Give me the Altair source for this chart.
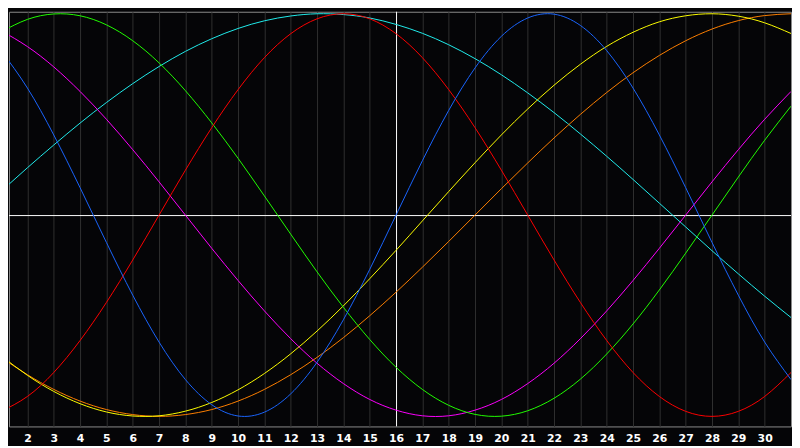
import altair as alt
import pandas as pd

days = list(range(1, 32))
tick_days = list(range(2, 31))
today = 16

# values for each day (range -1..1)
blue = [0.817, 0.631, 0.398, 0.136, -0.136, -0.398, -0.631, -0.817, -0.942, -0.998,
        -0.979, -0.888, -0.731, -0.520, -0.270, 0.0, 0.270, 0.520, 0.731, 0.888,
        0.979, 0.998, 0.942, 0.817, 0.631, 0.398, 0.136, -0.136, -0.398, -0.631, -0.817]
red = [-0.975, -0.901, -0.782, -0.623, -0.434, -0.223, 0.0, 0.223, 0.434, 0.623,
       0.782, 0.901, 0.975, 1.0, 0.975, 0.901, 0.782, 0.623, 0.434, 0.223,
       0.0, -0.223, -0.434, -0.623, -0.782, -0.901, -0.975, -1.0, -0.975, -0.901, -0.782]
green = [0.910, 0.972, 0.999, 0.990, 0.945, 0.866, 0.756, 0.618, 0.458, 0.282,
         0.095, -0.095, -0.282, -0.458, -0.618, -0.756, -0.866, -0.945, -0.990, -0.999,
         -0.972, -0.910, -0.815, -0.690, -0.541, -0.372, -0.189, 0.0, 0.189, 0.372, 0.541]
magenta = [0.916, 0.837, 0.736, 0.614, 0.476, 0.325, 0.165, 0.0, -0.165, -0.325,
           -0.476, -0.614, -0.736, -0.837, -0.916, -0.969, -0.997, -0.997, -0.969, -0.916,
           -0.837, -0.736, -0.614, -0.476, -0.325, -0.165, 0.0, 0.165, 0.325, 0.476, 0.614]
yellow = [-0.699, -0.796, -0.876, -0.937, -0.978, -0.998, -0.997, -0.974, -0.931, -0.868,
          -0.787, -0.689, -0.576, -0.451, -0.316, -0.175, -0.029, 0.117, 0.260, 0.398,
          0.527, 0.645, 0.749, 0.838, 0.908, 0.960, 0.990, 1.0, 0.988, 0.955, 0.902]
orange = [-0.707, -0.793, -0.866, -0.924, -0.966, -0.991, -1.0, -0.991, -0.966, -0.924,
          -0.866, -0.793, -0.707, -0.609, -0.5, -0.383, -0.259, -0.131, 0.0, 0.131,
          0.259, 0.383, 0.5, 0.609, 0.707, 0.793, 0.866, 0.924, 0.966, 0.991, 1.0]
cyan = [0.118, 0.235, 0.348, 0.457, 0.559, 0.653, 0.738, 0.813, 0.876, 0.927,
        0.965, 0.989, 1.0, 0.996, 0.979, 0.947, 0.903, 0.846, 0.777, 0.697,
        0.607, 0.509, 0.403, 0.292, 0.177, 0.059, -0.059, -0.177, -0.292, -0.403, -0.509]

series_names = ["cyan", "orange", "yellow", "magenta", "green", "red", "blue"]
series_vals = [cyan, orange, yellow, magenta, green, red, blue]
series_colors = ["#22eeee", "#ff8000", "#ffff00", "#ff00ff", "#22ff00", "#ff0000", "#1a66ff"]

rows = []
for name, vals in zip(series_names, series_vals):
    for d, v in zip(days, vals):
        rows.append({"day": d, "value": v, "series": name})
df = pd.DataFrame(rows)

xscale = alt.Scale(domain=[1.3, 31], nice=False, zero=False)
yscale = alt.Scale(domain=[-1.05, 1.01], nice=False, zero=False)

xaxis = alt.Axis(values=tick_days, title=None, grid=True, gridColor="#303030",
                 gridWidth=1, domain=False, ticks=False, labelColor="white",
                 labelFont="DejaVu Sans", labelFontWeight="bold", labelFontSize=11,
                 labelPadding=6, labelFlush=False)

lines = alt.Chart(df).mark_line(strokeWidth=1, clip=True, interpolate="natural").encode(
    x=alt.X("day:Q", scale=xscale, axis=xaxis),
    y=alt.Y("value:Q", scale=yscale, axis=None),
    color=alt.Color("series:N", scale=alt.Scale(domain=series_names, range=series_colors),
                    legend=None),
)

vline = alt.Chart(pd.DataFrame({"day": [today], "value": [0.0]})).mark_rule(
    color="white", strokeWidth=1, xOffset=0.5).encode(
    x=alt.X("day:Q", scale=xscale, axis=xaxis)
)
hline = alt.Chart(pd.DataFrame({"day": [today], "value": [0.0]})).mark_rule(
    color="white", strokeWidth=1, yOffset=0.5).encode(
    y=alt.Y("value:Q", scale=yscale, axis=None)
)

chart = alt.layer(vline, hline, lines).properties(
    width=792, height=420, padding=0, background="#050507"
).configure_view(stroke="#8c8c8c", strokeWidth=1, fill="#050507")

chart.save("out.html", embed_options={"renderer": "svg", "actions": False})
